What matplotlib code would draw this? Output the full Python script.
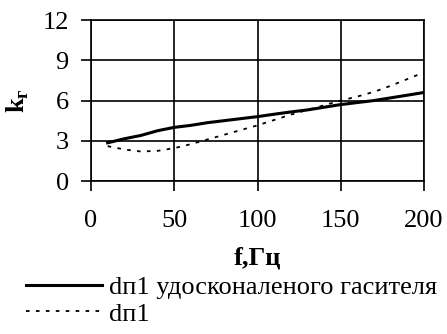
import matplotlib
matplotlib.use("Agg")
import matplotlib.pyplot as plt

plt.rcParams['font.family'] = ['Liberation Serif', 'DejaVu Serif']
plt.rcParams['mathtext.fontset'] = 'custom'
plt.rcParams['mathtext.rm'] = 'Liberation Serif'
plt.rcParams['mathtext.bf'] = 'Liberation Serif:bold'

f = [10, 20, 30, 40, 50, 60, 70, 80, 90, 100, 110, 120, 130, 140, 150, 160, 170, 180, 190, 200]
# dп1 удосконаленого гасителя
k1 = [2.85, 3.15, 3.4, 3.75, 4.0, 4.15, 4.35, 4.5, 4.65, 4.8, 4.98, 5.15, 5.3, 5.5, 5.7, 5.85, 6.0, 6.2, 6.4, 6.6]
# dп1
k2 = [2.6, 2.35, 2.2, 2.25, 2.45, 2.75, 3.1, 3.45, 3.8, 4.15, 4.55, 4.95, 5.3, 5.65, 6.0, 6.3, 6.65, 7.1, 7.6, 8.1]

fig = plt.figure(figsize=(4.47, 3.34), dpi=100)
ax = fig.add_axes([0.2036, 0.458, 0.745, 0.482])

ax.plot(f, k1, color='black', lw=2.2, label='dп1 удосконаленого гасителя')
ax.plot(f, k2, color='black', lw=1.3, linestyle=(0, (2, 3.5)), label='dп1')

ax.set_xlim(0, 200)
ax.set_ylim(0, 12)
ax.set_xticks([0, 50, 100, 150, 200])
ax.set_yticks([0, 3, 6, 9, 12])
ax.grid(True, color='black', lw=1.2)
for s in ax.spines.values():
    s.set_linewidth(1.2)
ax.tick_params(axis='both', labelsize=19, width=1.2, length=7, direction='out')
ax.tick_params(axis='x', pad=14)
ax.tick_params(axis='y', pad=9)

ax.set_xlabel('f,Гц', fontsize=19, fontweight='bold', labelpad=10)
ax.set_ylabel(r'$\mathbf{k}_\mathbf{г}$', fontsize=19, labelpad=8)

fig.legend(loc='upper left', bbox_to_anchor=(0.058, 0.175), frameon=False,
           fontsize=19, handlelength=2.9, handletextpad=0.25, labelspacing=0.12,
           borderpad=0, borderaxespad=0)

fig.savefig('out.png', dpi=100)
